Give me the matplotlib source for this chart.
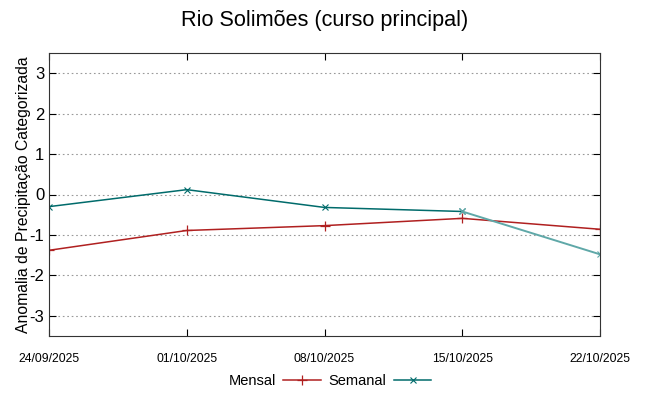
import matplotlib.pyplot as plt
import numpy as np

plt.rcParams['font.family'] = ['Liberation Sans', 'DejaVu Sans']
plt.rcParams['axes.unicode_minus'] = False

datas = ['24/09/2025', '01/10/2025', '08/10/2025', '15/10/2025', '22/10/2025']
mensal = [-1.38, -0.89, -0.77, -0.59, -0.86]
semanal = [-0.30, 0.12, -0.32, -0.42, -1.48]

x = np.arange(len(datas))

fig = plt.figure(figsize=(6.49, 3.96), dpi=100)
ax = fig.add_axes([49 / 649, 1 - 336 / 396, 551 / 649, 283 / 396])

ax.plot(x, mensal, color='#b02020', lw=1.1, marker='+', ms=7, mew=0.9, label='Mensal')
ax.plot(x[:-1], semanal[:-1], color='#006b6b', lw=1.1, marker='x', ms=5, mew=0.8, label='Semanal')
ax.plot(x[-2:], semanal[-2:], color='#5fa8a8', lw=1.4, marker='x', ms=5, mew=0.8)

ax.set_xlim(0, 4)
ax.set_ylim(-3.5, 3.5)
ax.set_yticks([-3, -2, -1, 0, 1, 2, 3])
ax.set_xticks(x)
ax.set_xticklabels(datas, fontsize=8.8)
ax.tick_params(axis='y', labelsize=12, direction='in', right=True, length=5)
ax.tick_params(axis='x', direction='in', top=True, length=5, pad=12)
ax.grid(axis='y', linestyle=(0, (1.5, 2.5)), color='#999999', lw=0.8)
for s in ax.spines.values():
    s.set_color('#333333')

ax.set_ylabel('Anomalia de Precipitação Categorizada', fontsize=11.3, labelpad=-1)
fig.suptitle('Rio Solimões (curso principal)', fontsize=15.6, y=0.975)

ax.legend(loc='center', bbox_to_anchor=(0.51, -0.16), ncol=2, frameon=False,
          markerfirst=False, fontsize=10.5, handlelength=2.6, columnspacing=0.5, handletextpad=0.5)

plt.savefig('out.png')
